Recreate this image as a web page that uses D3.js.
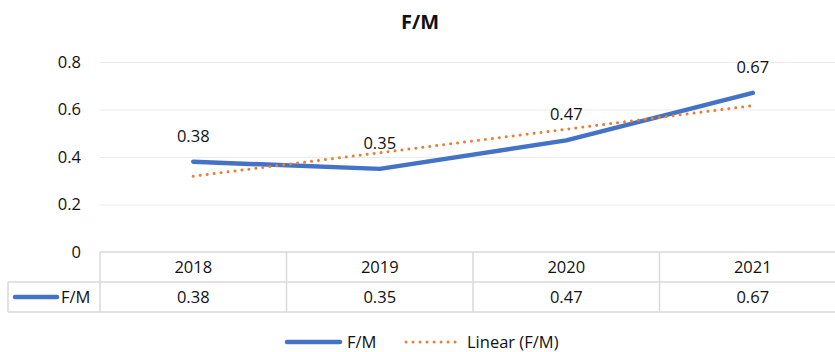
<!DOCTYPE html>
<html>
<head>
<meta charset="utf-8">
<script src="https://cdn.jsdelivr.net/npm/d3@7"></script>
<style>
  html, body { margin: 0; padding: 0; background: #fff; }
  svg { display: block; }
  text { font-family: "Open Sans", "Noto Sans", sans-serif; fill: #111; }
</style>
</head>
<body>
<script>
// Chart data
const years = ["2018", "2019", "2020", "2021"];
const ratio = [0.38, 0.35, 0.47, 0.67];
const yTicks = [0, 0.2, 0.4, 0.6, 0.8];
const seriesName = "F/M";
const trendName = "Linear (F/M)";

const W = 835, H = 352;
const blue = "#4472C4", orange = "#ED7D31", grid = "#ebebeb", border = "#d9d9d9";

const svg = d3.select("body").append("svg").attr("width", W).attr("height", H);
svg.append("rect").attr("width", W).attr("height", H).attr("fill", "#fff");

// Scales: plot area runs past the right edge of the canvas
const x = d3.scaleBand().domain(years).range([100, 846]);
const cx = d => x(d) + x.bandwidth() / 2;
const y = d3.scaleLinear().domain([0, 0.8]).range([252, 62]);

// Title
svg.append("text").attr("x", 420).attr("y", 29)
  .attr("text-anchor", "middle").attr("font-size", 20).attr("font-weight", 700)
  .text(seriesName);

// Gridlines and y tick labels
const yAxis = d3.axisLeft(y).tickValues(yTicks).tickFormat(d3.format("~g"))
  .tickSize(-(846 - 100)).tickPadding(19);
const gy = svg.append("g").attr("transform", "translate(100,0)").call(yAxis);
gy.select(".domain").remove();
gy.selectAll(".tick line").attr("stroke", grid).attr("stroke-width", 1.2)
  .filter(d => d === 0).remove();
gy.selectAll(".tick text").attr("font-size", 16.5).attr("fill", "#111")
  .style("font-family", "'Open Sans', sans-serif");

// Linear trend (least squares over category index)
const xs = ratio.map((_, i) => i + 1);
const mx = d3.mean(xs), my = d3.mean(ratio);
const slope = d3.sum(xs.map((v, i) => (v - mx) * (ratio[i] - my))) /
              d3.sum(xs.map(v => (v - mx) ** 2));
const icpt = my - slope * mx;
const trend = [1, xs.length].map(i => ({ year: years[i - 1], v: icpt + slope * i }));

// Main series line
const line = d3.line().x(d => cx(d.year)).y(d => y(d.v));
const pts = years.map((yr, i) => ({ year: yr, v: ratio[i] }));
svg.append("path").datum(pts).attr("d", line)
  .attr("fill", "none").attr("stroke", blue).attr("stroke-width", 4.5)
  .attr("stroke-linecap", "round").attr("stroke-linejoin", "round");

svg.append("path").datum(trend).attr("d", line)
  .attr("fill", "none").attr("stroke", orange).attr("stroke-width", 3)
  .attr("stroke-linecap", "round").attr("stroke-dasharray", "0.01 7");

// Data labels
svg.selectAll(".dl").data(pts).join("text").attr("class", "dl")
  .attr("x", d => cx(d.year)).attr("y", d => y(d.v) - 20)
  .attr("text-anchor", "middle").attr("font-size", 16.5)
  .text(d => d.v.toFixed(2));

// Data table
const rowTop = 252, rowMid = 282, rowBot = 312, tableLeft = 8;
const tg = svg.append("g").attr("stroke", border).attr("stroke-width", 1.5).attr("fill", "none");
tg.append("line").attr("x1", 100).attr("x2", 846).attr("y1", rowTop).attr("y2", rowTop);
tg.append("line").attr("x1", tableLeft).attr("x2", 846).attr("y1", rowMid).attr("y2", rowMid);
tg.append("line").attr("x1", tableLeft).attr("x2", 846).attr("y1", rowBot).attr("y2", rowBot);
tg.append("line").attr("x1", tableLeft).attr("x2", tableLeft).attr("y1", rowMid).attr("y2", rowBot);
years.concat(["end"]).forEach((yr, i) => {
  const xx = i < years.length ? x(yr) : x.range()[1];
  tg.append("line").attr("x1", xx).attr("x2", xx).attr("y1", rowTop).attr("y2", rowBot);
});

svg.selectAll(".yr").data(years).join("text").attr("class", "yr")
  .attr("x", d => cx(d)).attr("y", 273).attr("text-anchor", "middle")
  .attr("font-size", 16.5).text(d => d);
svg.selectAll(".tv").data(pts).join("text").attr("class", "tv")
  .attr("x", d => cx(d.year)).attr("y", 303).attr("text-anchor", "middle")
  .attr("font-size", 16.5).text(d => d.v.toFixed(2));

// Table legend key
svg.append("line").attr("x1", 15).attr("x2", 57).attr("y1", 297).attr("y2", 297)
  .attr("stroke", blue).attr("stroke-width", 4.5).attr("stroke-linecap", "round");
svg.append("text").attr("x", 61).attr("y", 303).attr("font-size", 16.5).text(seriesName);

// Bottom legend
const lg = svg.append("g");
lg.append("line").attr("x1", 287).attr("x2", 340).attr("y1", 342).attr("y2", 342)
  .attr("stroke", blue).attr("stroke-width", 4.5).attr("stroke-linecap", "round");
lg.append("text").attr("x", 347).attr("y", 348).attr("font-size", 16.5).text(seriesName);
lg.append("line").attr("x1", 406).attr("x2", 462).attr("y1", 342).attr("y2", 342)
  .attr("stroke", orange).attr("stroke-width", 3).attr("stroke-linecap", "round")
  .attr("stroke-dasharray", "0.01 7");
lg.append("text").attr("x", 467).attr("y", 348).attr("font-size", 16.5).text(trendName);
</script>
</body>
</html>
